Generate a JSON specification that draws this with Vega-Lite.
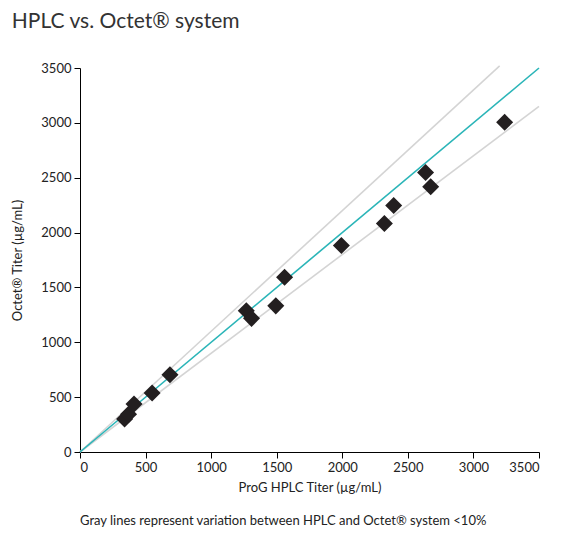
{
  "$schema": "https://vega.github.io/schema/vega-lite/v6.json",
  "width": 459,
  "height": 384,
  "autosize": {"type": "none"},
  "padding": {"left": 80, "top": 68, "right": 23, "bottom": 81},
  "background": "#ffffff",
  "view": {"stroke": null},
  "config": {
    "font": "Lato",
    "axis": {
      "labelFont": "Lato",
      "labelFontSize": 13,
      "labelColor": "#222222",
      "titleFont": "Lato",
      "titleFontSize": 13,
      "titleFontWeight": "normal",
      "titleColor": "#222222",
      "domainColor": "#000000",
      "tickColor": "#000000",
      "tickSize": 6,
      "labelPadding": 3,
      "format": "d",
      "grid": false
    }
  },
  "title": {
    "text": "HPLC vs. Octet® system",
    "anchor": "start",
    "frame": "bounds",
    "fontSize": 21,
    "fontWeight": "normal",
    "font": "Lato",
    "color": "#333333",
    "offset": 30
  },
  "datasets": {
    "lines": [
      {"series": "upper", "x": 0, "y": 0},
      {"series": "upper", "x": 3200, "y": 3520},
      {"series": "lower", "x": 0, "y": 0},
      {"series": "lower", "x": 3500, "y": 3150},
      {"series": "equal", "x": 0, "y": 0},
      {"series": "equal", "x": 3500, "y": 3500}
    ],
    "samples": [
      {"hplc": 340, "octet": 300},
      {"hplc": 370, "octet": 345},
      {"hplc": 412, "octet": 437},
      {"hplc": 550, "octet": 538},
      {"hplc": 686, "octet": 704},
      {"hplc": 1268, "octet": 1288},
      {"hplc": 1308, "octet": 1218},
      {"hplc": 1493, "octet": 1332},
      {"hplc": 1560, "octet": 1592},
      {"hplc": 1993, "octet": 1882},
      {"hplc": 2321, "octet": 2083},
      {"hplc": 2392, "octet": 2247},
      {"hplc": 2635, "octet": 2548},
      {"hplc": 2674, "octet": 2418},
      {"hplc": 3238, "octet": 3005}
    ],
    "caption": [
      {"x": 0, "y": -665, "text": "Gray lines represent variation between HPLC and Octet® system <10%"}
    ]
  },
  "layer": [
    {
      "data": {"name": "lines"},
      "mark": {"type": "line", "strokeWidth": 1.6, "clip": false},
      "encoding": {
        "x": {
          "field": "x",
          "type": "quantitative",
          "scale": {"domain": [0, 3500], "nice": false},
          "axis": {
            "title": "ProG HPLC Titer (µg/mL)",
            "values": [0, 500, 1000, 1500, 2000, 2500, 3000, 3500],
            "titlePadding": 7
          }
        },
        "y": {
          "field": "y",
          "type": "quantitative",
          "scale": {"domain": [0, 3500], "nice": false},
          "axis": {
            "title": "Octet® Titer (µg/mL)",
            "values": [0, 500, 1000, 1500, 2000, 2500, 3000, 3500],
            "titlePadding": 16
          }
        },
        "detail": {"field": "series"},
        "color": {
          "field": "series",
          "type": "nominal",
          "scale": {"domain": ["upper", "lower", "equal"], "range": ["#d4d4d4", "#d4d4d4", "#2bb5b8"]},
          "legend": null
        },
        "order": {"field": "x"}
      }
    },
    {
      "data": {"name": "samples"},
      "mark": {"type": "point", "shape": "diamond", "filled": true, "size": 290, "color": "#231f20", "opacity": 1},
      "encoding": {
        "x": {"field": "hplc", "type": "quantitative"},
        "y": {"field": "octet", "type": "quantitative"}
      }
    },
    {
      "data": {"name": "caption"},
      "mark": {"type": "text", "align": "left", "baseline": "alphabetic", "fontSize": 13, "font": "Lato", "color": "#222222", "clip": false},
      "encoding": {
        "x": {"field": "x", "type": "quantitative"},
        "y": {"field": "y", "type": "quantitative"},
        "text": {"field": "text"}
      }
    }
  ]
}
